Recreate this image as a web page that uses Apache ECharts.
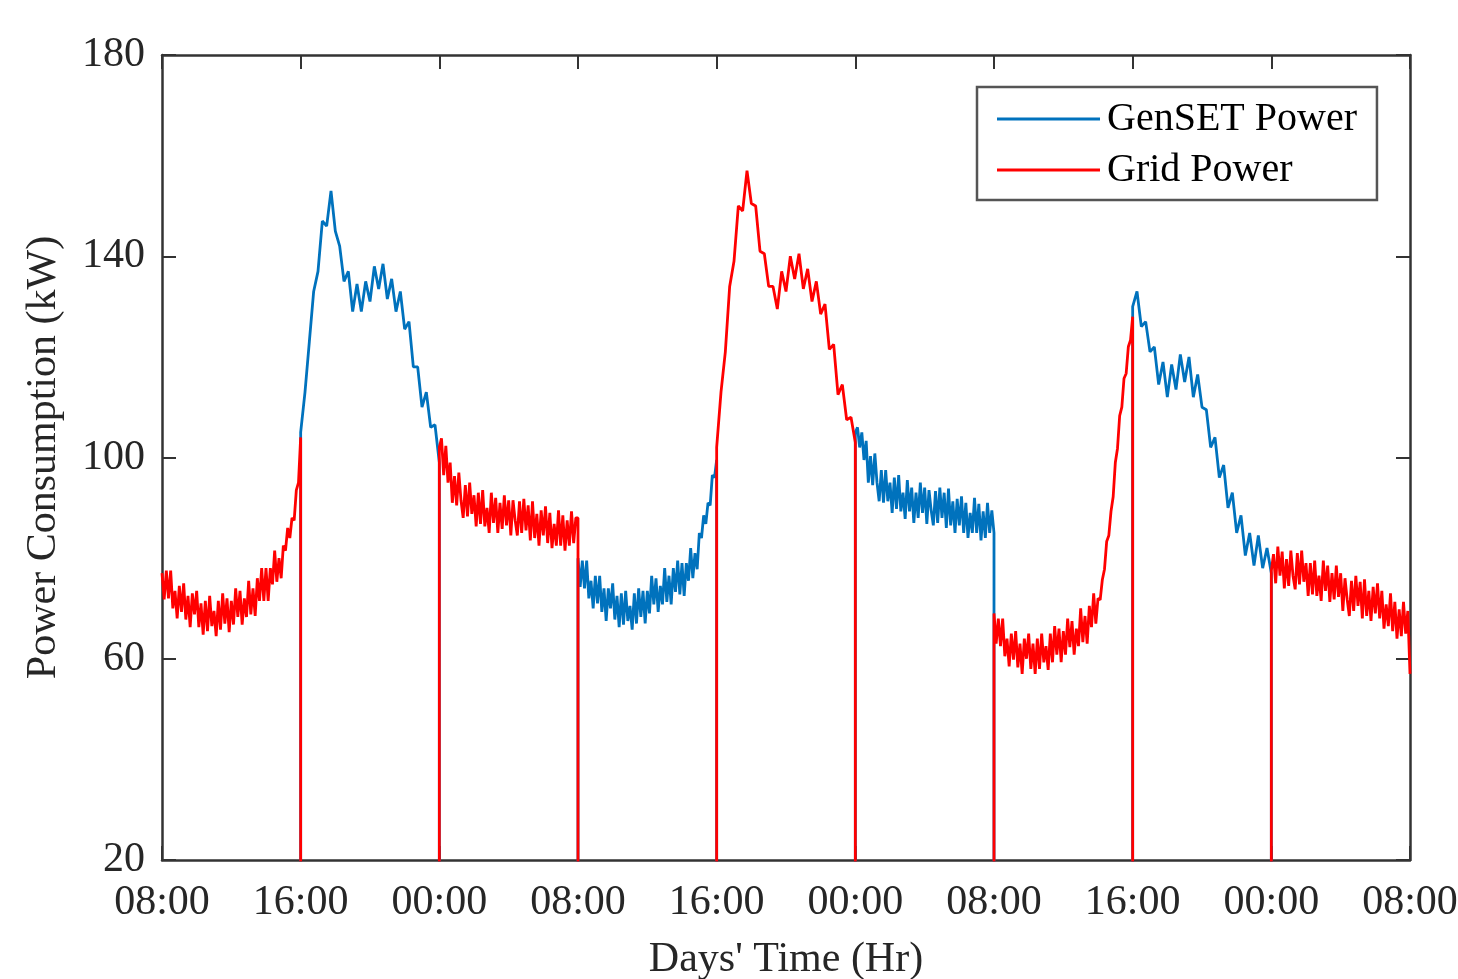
<!DOCTYPE html>
<html>
<head>
<meta charset="utf-8">
<title>GenSET vs Grid Power</title>
<script src="https://cdn.jsdelivr.net/npm/echarts@6/dist/echarts.min.js"></script>
<style>
  html, body { margin: 0; padding: 0; background: #fff; }
  #chart { width: 1458px; height: 979px; }
</style>
</head>
<body>
<div id="chart"></div>
<script>
// x axis labels, one every 8 hours starting 08:00 on day 1
const tickLabels = ['08:00', '16:00', '00:00', '08:00', '16:00', '00:00', '08:00', '16:00', '00:00', '08:00'];

const blockHours = 8;

// readings inside each 8 h block (kW), evenly spaced over the block
const gridBlock1 = [77, 71.8, 77.5, 72, 77.5, 70, 73.5, 68, 74.5, 69.3, 75, 67.8, 72.5, 66.3, 73, 68.8, 73.5, 66.3, 71, 64.8, 71.5, 65.5, 72.5, 66.5, 69.5, 64.5, 71.5, 65.8, 73, 67, 72, 65.3,
    71.5, 66.8, 74, 68.3, 73.5, 66.8, 72, 68.3, 75.5, 68.8, 74, 68.5, 76, 71.5, 78, 71.5, 78, 71.5, 78, 74.8, 81.5, 75.3, 80, 76, 82.5, 81.5, 86, 84, 88, 87.5, 93.5, 95, 104];
const gensetBlock1 = [105, 113, 123, 133, 137, 147, 146, 153, 145, 142, 135, 137, 129, 134.5, 129, 135, 131, 138, 133.5, 138.5, 131.5, 135.5, 129, 133, 125.5, 127, 118, 118, 110, 113, 106, 106.5, 99];
const gridBlock2 = [102, 103.8, 96.5, 102.3, 95, 99, 91, 96.3, 90.5, 97, 91.5, 88, 94.5, 88.3, 95, 88.8, 92.5, 86.3, 93, 86.8, 93.5, 86.3, 90, 85, 93, 87, 92, 85, 91, 85.8, 92.5, 86.5,
    91.5, 84.5, 91.5, 87.5, 84.5, 91.3, 85, 91.8, 85.5, 90.5, 83.5, 91.3, 84, 88.8, 82.5, 89.5, 84.5, 90.3, 83, 89, 82, 86.8, 82.5, 89.5, 82.5, 88.5, 81.5, 87.5, 82.5, 89.3, 83, 88, 88];
const gensetBlock2 = [80, 74.3, 79.5, 74, 79.5, 72, 75.5, 70, 76.5, 71, 76.5, 69.3, 74, 67.5, 74, 70, 75, 67.8, 72.5, 66.3, 73, 66.8, 73.5, 67.5, 70.5, 65.8, 73, 67, 74, 68.3, 73.5, 67,
    73.5, 69, 76.5, 70.8, 76, 69.3, 74.5, 70.8, 78, 71.3, 76.5, 70.8, 78, 73.3, 79.5, 72.8, 79, 72.5, 79, 75.5, 82, 76, 81, 77.8, 85, 84, 88.5, 86.8, 91, 90.5, 96.5, 96, 99.5];
const gridBlock3 = [102, 113, 121, 134, 139, 150, 149, 157, 150.5, 150, 141, 140.5, 134, 134, 129.5, 137, 133, 140, 135.5, 140.5, 133.5, 137.5, 131, 135, 128.5, 130.5, 121.5, 122.5, 112.5, 114.5, 107.5, 108, 103];
const gensetBlock3 = [105, 106, 102, 105, 99.5, 103.3, 95, 100.3, 94.5, 100.8, 95, 91.3, 97.5, 91, 97.5, 91.3, 95, 89, 96, 89.8, 96.5, 89.3, 93, 87.8, 95.5, 89.3, 94, 87, 93, 88, 95, 89,
    94, 86.8, 93.5, 89.5, 86.5, 93.3, 87, 94, 88, 93, 86, 93.8, 86.5, 91.3, 85, 91.8, 86.5, 92.3, 85, 91, 84, 89, 85, 92, 85, 90.8, 83.5, 89.3, 84, 91, 85, 89.5, 85];
const gridBlock4 = [69, 63, 68, 62.5, 68, 60.5, 64, 58.5, 65, 59.8, 65.5, 58.3, 63, 57, 64, 60, 65, 58, 63, 57, 64, 58, 65, 59.3, 62.5, 57.8, 65, 59.3, 66.5, 60.8, 66, 59.3,
    65.5, 60.8, 68, 62.3, 67.5, 60.8, 66, 62.5, 70, 63.3, 68.5, 63, 70.5, 66.3, 73, 67, 72, 71.7, 75.7, 77.8, 83.3, 84.5, 89.3, 92.2, 99, 101.8, 108.3, 110, 115.7, 116.7, 122, 123.3, 128];
const gensetBlock4 = [130, 133, 126, 127, 121, 122, 114.5, 119, 112, 118.5, 113.5, 120.5, 115, 120, 112, 116.5, 110, 109.5, 102, 104, 96, 98.5, 90, 93, 85, 88.5, 80.5, 85, 78.5, 84.5, 78, 82, 77];
const gridBlock5 = [77.5, 80.8, 75, 82.3, 76.5, 81.3, 74, 79.8, 74.5, 81.5, 76.5, 73.8, 81, 74.8, 81.5, 75.3, 79, 72.5, 79, 72.8, 79.5, 72.5, 76.5, 71.5, 79.5, 73.5, 78.5, 71.3, 77, 71.8, 78.5, 72.3,
    77, 69.5, 76, 71.8, 68.5, 75.5, 69.5, 76.5, 70.5, 75.3, 68, 75.8, 68.5, 73.5, 67.5, 74.3, 69, 75, 68, 73.5, 66, 70.8, 66.5, 73, 65.5, 71.3, 64, 69.8, 64.5, 71.3, 65, 69.5, 57];

const blocks = [gridBlock1, gensetBlock1, gridBlock2, gensetBlock2, gridBlock3, gensetBlock3, gridBlock4, gensetBlock4, gridBlock5];
const blockSource = ['grid', 'genset', 'grid', 'genset', 'grid', 'genset', 'grid', 'genset', 'grid'];

// the source that is off reads 0 kW, which gives the vertical switch-over lines
function buildSeries(source) {
    const out = [];
    blocks.forEach((vals, i) => {
        const start = i * blockHours;
        const step = blockHours / (vals.length - 1);
        if (blockSource[i] === source) {
            vals.forEach((v, k) => out.push([start + k * step, v]));
        } else {
            out.push([start, 0], [start + blockHours, 0]);
        }
    });
    return out;
}

const font = 'Liberation Serif';
const axisColor = '#333';

const chart = echarts.init(document.getElementById('chart'));

const xAxisBase = {
    type: 'value',
    min: 0,
    max: 72,
    interval: 8,
    axisLine: { show: true, onZero: false, lineStyle: { color: axisColor, width: 2.5 } },
    axisTick: { show: true, inside: true, length: 14, lineStyle: { color: axisColor, width: 2 } },
    splitLine: { show: false }
};
const yAxisBase = {
    type: 'value',
    min: 20,
    max: 180,
    interval: 40,
    axisLine: { show: true, onZero: false, lineStyle: { color: axisColor, width: 2.5 } },
    axisTick: { show: true, inside: true, length: 14, lineStyle: { color: axisColor, width: 2 } },
    splitLine: { show: false }
};

const option = {
    backgroundColor: '#fff',
    animation: false,
    grid: { left: 162, right: 48, top: 55, bottom: 119, outerBoundsMode: 'none', containLabel: false },
    legend: {
        orient: 'vertical',
        left: 977,
        top: 87,
        padding: [12, 20, 10, 20],
        itemGap: 11,
        itemWidth: 103,
        itemHeight: 3,
        itemStyle: { borderWidth: 0 },
        icon: 'rect',
        backgroundColor: '#fff',
        borderColor: '#555',
        borderWidth: 2.5,
        textStyle: { fontFamily: font, fontSize: 40, color: '#000', lineHeight: 40, padding: [0, 0, 0, 2] },
        data: ['GenSET Power', 'Grid Power']
    },
    xAxis: [
        Object.assign({}, xAxisBase, {
            position: 'bottom',
            name: "Days' Time (Hr)",
            nameLocation: 'middle',
            nameGap: 79,
            nameTextStyle: { fontFamily: font, fontSize: 42, color: '#262626' },
            axisLabel: {
                fontFamily: font,
                fontSize: 42,
                color: '#262626',
                margin: 22,
                formatter: v => tickLabels[Math.round(v / blockHours)]
            }
        }),
        Object.assign({}, xAxisBase, { position: 'top', axisLabel: { show: false } })
    ],
    yAxis: [
        Object.assign({}, yAxisBase, {
            position: 'left',
            name: 'Power Consumption (kW)',
            nameLocation: 'middle',
            nameGap: 97,
            nameTextStyle: { fontFamily: font, fontSize: 42, color: '#262626' },
            axisLabel: { fontFamily: font, fontSize: 42, color: '#262626', margin: 17 }
        }),
        Object.assign({}, yAxisBase, { position: 'right', axisLabel: { show: false } })
    ],
    series: [
        {
            name: 'GenSET Power',
            type: 'line',
            data: buildSeries('genset'),
            symbol: 'none',
            clip: true,
            color: '#0072BD',
            lineStyle: { color: '#0072BD', width: 2.8 },
            z: 2
        },
        {
            name: 'Grid Power',
            type: 'line',
            data: buildSeries('grid'),
            symbol: 'none',
            clip: true,
            color: '#FF0000',
            lineStyle: { color: '#FF0000', width: 2.8 },
            z: 3
        }
    ]
};

chart.setOption(option);
</script>
</body>
</html>
